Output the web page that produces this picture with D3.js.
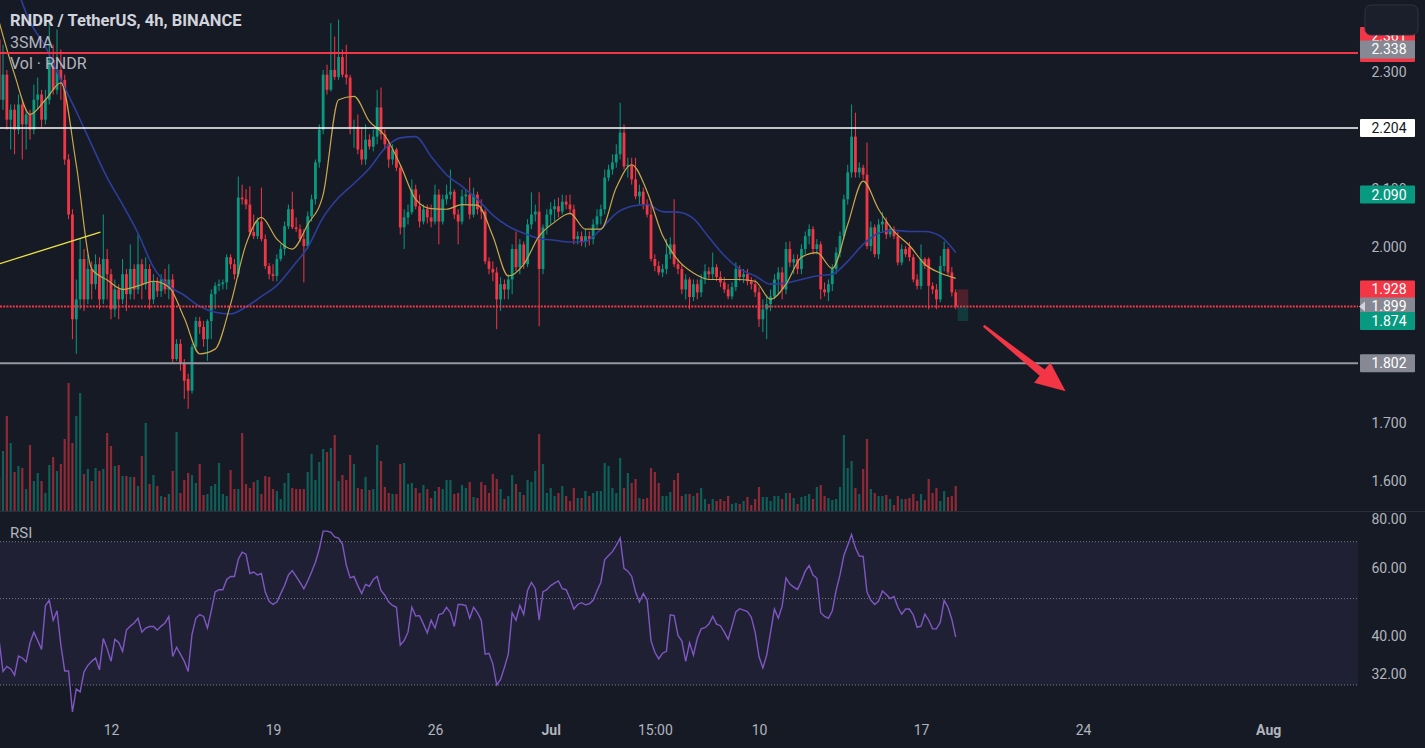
<!DOCTYPE html>
<html><head><meta charset="utf-8">
<script src="https://cdn.jsdelivr.net/npm/d3@7"></script>
<style>
html,body{margin:0;padding:0;background:#161a25;overflow:hidden;}
svg{display:block;font-family:Roboto,"Noto Sans",sans-serif;}
</style></head><body>
<svg id="chart" width="1425" height="748"></svg>
<script>
// ---------- DATA ----------
const barStartUTC = Date.UTC(2023, 5, 7, 7);   // first 4h bar (chart time)
const barHours = 4;

const opens = [
2.355,2.252,2.295,2.218,2.235,2.201,2.244,2.210,2.227,2.201,
2.252,2.261,2.218,2.252,2.320,2.269,2.303,2.286,2.150,2.056,
1.877,1.911,1.980,1.911,1.963,1.937,1.971,1.911,1.980,1.954,
1.894,1.928,1.911,1.954,1.920,1.963,1.928,1.971,1.937,1.963,
1.911,1.942,1.925,1.945,1.928,1.945,1.809,1.835,1.801,1.775,
1.755,1.830,1.874,1.864,1.843,1.874,1.920,1.934,1.937,1.940,
1.983,1.971,1.954,2.085,2.082,2.073,2.026,2.019,2.044,2.014,
1.968,1.954,1.951,1.980,1.997,2.036,2.065,2.034,2.031,2.014,
2.002,2.053,2.082,2.145,2.201,2.295,2.269,2.303,2.291,2.325,
2.295,2.290,2.205,2.206,2.167,2.150,2.184,2.172,2.189,2.239,
2.193,2.176,2.150,2.167,2.136,2.034,2.051,2.060,2.099,2.070,
2.044,2.065,2.051,2.044,2.090,2.044,2.082,2.090,2.095,2.056,
2.044,2.087,2.090,2.056,2.090,2.065,2.061,1.976,1.963,1.957,
1.911,1.937,1.928,1.945,1.997,1.966,2.005,1.971,2.039,2.056,
2.061,1.963,2.034,2.056,2.065,2.070,2.061,2.078,2.073,2.065,
2.014,2.019,2.009,2.019,2.014,2.039,2.053,2.065,2.119,2.133,
2.145,2.159,2.196,2.138,2.141,2.116,2.087,2.095,2.073,2.056,
1.980,1.968,1.957,1.963,1.988,2.005,1.971,1.963,1.928,1.945,
1.915,1.937,1.923,1.945,1.959,1.954,1.966,1.949,1.940,1.928,
1.916,1.932,1.963,1.949,1.954,1.942,1.937,1.923,1.877,1.894,
1.903,1.916,1.945,1.957,1.928,1.997,1.974,1.980,1.963,1.997,
2.019,2.031,1.997,2.005,1.928,1.923,1.937,1.963,1.991,2.019,
2.082,2.128,2.189,2.128,2.136,2.124,2.002,2.034,1.988,2.039,
2.044,2.022,2.031,2.019,1.974,1.997,2.000,1.983,1.945,1.934,
1.980,1.980,1.934,1.928,1.911,1.968,1.997,1.957,1.923];

const highs = [
2.406,2.346,2.303,2.244,2.244,2.261,2.252,2.235,2.235,2.278,
2.290,2.269,2.269,2.389,2.346,2.372,2.338,2.295,2.159,2.065,
1.945,2.014,1.997,1.988,1.976,1.988,1.983,2.056,1.997,1.963,
1.945,1.937,1.980,1.963,2.005,1.971,2.022,1.980,1.983,1.971,
1.954,1.949,1.954,1.963,1.971,1.954,1.843,1.843,1.809,1.784,
1.835,1.881,1.881,1.874,1.877,1.928,1.940,1.945,1.945,1.988,
1.988,1.980,2.121,2.107,2.099,2.104,2.056,2.051,2.102,2.022,
1.973,1.971,1.988,2.005,2.044,2.073,2.095,2.051,2.039,2.031,
2.061,2.090,2.150,2.210,2.303,2.312,2.383,2.360,2.389,2.338,
2.346,2.295,2.218,2.227,2.205,2.210,2.193,2.201,2.269,2.273,
2.201,2.184,2.176,2.170,2.141,2.065,2.073,2.116,2.107,2.090,
2.073,2.073,2.073,2.107,2.099,2.090,2.107,2.133,2.099,2.065,
2.099,2.099,2.119,2.102,2.095,2.082,2.065,1.983,1.976,1.966,
1.949,1.945,1.954,2.005,2.027,2.014,2.010,2.048,2.094,2.073,
2.094,2.039,2.065,2.077,2.082,2.085,2.090,2.089,2.090,2.073,
2.027,2.027,2.031,2.027,2.048,2.065,2.073,2.133,2.141,2.159,
2.176,2.247,2.210,2.153,2.153,2.153,2.107,2.102,2.082,2.078,
1.988,1.976,1.971,2.014,2.017,2.082,1.980,1.971,1.954,1.949,
1.945,1.945,1.954,1.971,1.966,1.991,1.971,1.959,1.949,1.937,
1.940,1.974,1.969,1.963,1.963,1.949,1.945,1.932,1.911,1.918,
1.928,1.954,1.966,1.966,2.009,2.010,1.988,1.988,2.005,2.027,
2.039,2.036,2.014,2.010,1.940,1.945,1.971,2.000,2.027,2.090,
2.141,2.244,2.230,2.145,2.141,2.179,2.044,2.039,2.048,2.060,
2.051,2.037,2.036,2.027,2.005,2.002,2.009,1.988,1.954,2.005,
1.983,1.983,1.940,1.937,1.985,2.010,2.000,1.966,1.928];

const lows = [
2.244,2.235,2.201,2.167,2.159,2.193,2.150,2.167,2.184,2.193,
2.235,2.205,2.210,2.244,2.261,2.261,2.252,2.141,2.048,1.843,
1.818,1.894,1.891,1.903,1.911,1.928,1.894,1.903,1.911,1.877,
1.881,1.877,1.903,1.891,1.911,1.911,1.920,1.911,1.928,1.894,
1.903,1.915,1.915,1.920,1.911,1.801,1.806,1.789,1.741,1.724,
1.750,1.823,1.852,1.830,1.806,1.843,1.894,1.925,1.928,1.928,
1.963,1.945,1.949,2.073,2.065,2.020,2.014,2.014,2.010,1.963,
1.945,1.942,1.942,1.976,1.986,2.031,2.031,2.026,2.009,1.940,
1.997,2.044,2.073,2.136,2.193,2.261,2.266,2.286,2.286,2.290,
2.278,2.193,2.170,2.159,2.141,2.141,2.167,2.164,2.176,2.184,
2.167,2.136,2.141,2.130,2.022,1.997,2.039,2.056,2.065,2.034,
2.039,2.041,2.034,2.039,2.005,2.039,2.073,2.082,2.048,2.005,
2.039,2.073,2.048,2.051,2.056,2.048,1.971,1.954,1.942,1.860,
1.891,1.911,1.911,1.920,1.959,1.954,1.963,1.966,2.031,2.044,
1.865,1.954,2.022,2.039,2.044,2.051,2.056,2.065,2.056,2.005,
2.005,2.002,2.000,2.003,2.005,2.031,2.039,2.056,2.113,2.124,
2.136,2.150,2.133,2.119,2.107,2.082,2.073,2.065,2.051,1.976,
1.959,1.952,1.949,1.954,1.980,1.966,1.954,1.920,1.911,1.894,
1.908,1.911,1.915,1.937,1.945,1.945,1.942,1.932,1.922,1.911,
1.911,1.925,1.942,1.939,1.935,1.928,1.915,1.864,1.855,1.843,
1.891,1.911,1.920,1.911,1.920,1.966,1.954,1.954,1.954,1.988,
2.005,1.988,1.988,1.911,1.916,1.908,1.925,1.954,1.983,2.014,
2.073,2.119,2.119,2.119,2.116,1.997,1.993,1.983,1.980,2.027,
2.014,2.017,2.014,1.969,1.969,1.983,1.976,1.940,1.928,1.928,
1.963,1.894,1.920,1.894,1.906,1.959,1.951,1.916,1.894];

const closes = [
2.252,2.295,2.218,2.235,2.201,2.244,2.210,2.227,2.201,2.252,
2.261,2.218,2.252,2.320,2.269,2.303,2.286,2.150,2.056,1.877,
1.911,1.980,1.911,1.963,1.937,1.971,1.911,1.980,1.954,1.894,
1.928,1.911,1.954,1.920,1.963,1.928,1.971,1.937,1.963,1.911,
1.942,1.925,1.945,1.928,1.945,1.809,1.835,1.801,1.772,1.755,
1.830,1.874,1.864,1.843,1.874,1.920,1.934,1.937,1.940,1.983,
1.971,1.954,2.085,2.082,2.073,2.026,2.019,2.044,2.014,1.968,
1.954,1.951,1.980,1.997,2.036,2.065,2.034,2.031,2.014,2.002,
2.053,2.082,2.145,2.201,2.295,2.269,2.303,2.291,2.325,2.295,
2.290,2.205,2.206,2.167,2.150,2.184,2.172,2.189,2.239,2.193,
2.176,2.150,2.167,2.136,2.034,2.051,2.060,2.099,2.070,2.044,
2.065,2.051,2.044,2.090,2.044,2.082,2.090,2.095,2.056,2.044,
2.087,2.090,2.056,2.090,2.065,2.061,1.976,1.963,1.957,1.911,
1.937,1.928,1.945,1.997,1.966,2.005,1.971,2.039,2.056,2.061,
1.963,2.034,2.056,2.065,2.070,2.061,2.078,2.073,2.065,2.014,
2.019,2.009,2.019,2.014,2.039,2.053,2.065,2.119,2.133,2.145,
2.159,2.196,2.138,2.141,2.116,2.087,2.095,2.073,2.056,1.980,
1.968,1.957,1.963,1.988,2.005,1.971,1.963,1.928,1.945,1.915,
1.937,1.923,1.945,1.959,1.954,1.966,1.949,1.940,1.928,1.916,
1.932,1.963,1.949,1.954,1.942,1.937,1.923,1.877,1.894,1.903,
1.916,1.945,1.957,1.928,1.997,1.974,1.980,1.963,1.997,2.019,
2.031,1.997,2.005,1.928,1.923,1.937,1.963,1.991,2.019,2.082,
2.128,2.189,2.128,2.136,2.124,2.002,2.034,1.988,2.039,2.044,
2.022,2.031,2.019,1.974,1.997,1.988,1.983,1.945,1.934,1.980,
1.968,1.934,1.928,1.911,1.968,1.997,1.957,1.923,1.899];

// volume, thousands of RNDR (relative)
const volumes = [
33,60,95,68,39,45,43,22,66,30, 38,30,18,46,54,40,47,72,128,68,
95,118,37,42,30,43,40,42,78,65, 45,46,35,35,34,34,25,55,88,27,
36,25,15,14,17,40,79,18,31,38, 36,28,47,16,17,25,27,48,17,15,
41,22,22,78,27,23,29,31,17,35, 34,22,20,12,28,38,23,22,22,22,
39,57,31,49,62,59,63,76,30,36, 31,56,47,23,22,34,21,22,66,50,
24,18,17,17,47,48,27,28,23,18, 26,22,13,20,24,22,31,31,17,18,
26,23,29,14,13,29,26,18,37,32, 22,12,15,36,27,19,16,31,29,40,
77,47,18,23,15,18,25,15,10,23, 13,13,20,15,18,20,20,48,45,23,
18,53,23,38,28,32,13,12,13,43, 39,28,15,15,19,31,38,15,17,17,
15,18,23,12,7,12,10,12,10,15, 7,8,7,10,14,6,12,24,14,14,
10,15,15,12,18,18,13,7,14,15, 17,12,24,26,15,13,11,12,24,76,
43,50,23,17,42,72,22,18,15,15, 16,12,6,15,12,12,13,17,10,17,
11,32,18,23,10,20,14,15,25];

const rsiValues = [
39,32.5,33.5,33,31.8,35.6,35.2,34.4,38.5,41,
39,37,48,49.5,44,46.5,38,32.6,32.6,25.6,
29.3,28.8,32.4,33.7,34.5,35.2,32.8,39.5,37.2,34.5,
39.3,38.6,36.6,41.5,42.5,43.3,44.5,41,42,42.4,
42.4,41.5,42.5,43.3,45,35.5,37.5,36,34.5,32.5,
40.5,44.5,45.5,45,42,46.5,52,52.7,52.7,56,
57,57,63,65.8,65,58,58.5,57.5,58,52,
49.2,48.3,49,51.5,54,57.5,59,57,55,53,
55.5,58.5,62,67,74.5,74.5,74,72,71.5,69,
61,56.5,57,54,51.5,54.4,53.8,56,57,52.5,
51,49,48,47.5,38,39,41,47.5,45.1,45.2,
43,40.8,44,42,45.5,45.8,47.5,46,42.4,48.3,
48.3,48,44.5,47.5,46,44,36,36.2,34,30,
31,33.3,36,46,44,48,45.5,52.5,55,53,
44,52.1,52.7,54,54.8,55.5,53,52.7,50,47,
48.3,48.8,48.2,48.5,49.5,52.4,55,63,64.5,66,
68.5,71.5,59.8,58.8,57,52,49,51.5,49.6,39,
36.4,35,36.2,36.6,45.4,45.2,40.2,38.9,34.5,38.5,
35.8,39.5,41.8,42.1,43,45,43,42.6,41,39.3,
42.5,46.2,47.1,46.7,46.3,44.8,41,35.5,33.2,35.8,
41,47,44.5,47.8,56.5,54.5,53.5,52.8,55.5,58.8,
60.8,57.5,56.4,46,45,44.5,46.5,52.5,57.5,64.5,
68.5,73,67.5,64.3,64.2,52,49.5,48.3,49.3,52.3,
51.2,50,50.6,47.5,45.6,47,47,45.4,42.2,42.5,
45.6,44,41.8,41.8,43.5,49.5,47.5,44.2,39.8];

// moving averages read every 4th bar
const maStepBars = 4;
const smaFast = [
2.385,2.295,2.227,2.252,2.281,2.141,1.963,1.944,1.928,1.934,
1.942,1.932,1.879,1.818,1.826,1.903,2.005,2.051,2.014,1.997,
2.039,2.090,2.252,2.258,2.215,2.191,2.141,2.082,2.066,2.065,
2.073,2.072,2.019,1.951,1.971,2.019,2.043,2.058,2.031,2.031,
2.102,2.141,2.095,2.020,1.978,1.956,1.945,1.945,1.945,1.942,
1.911,1.937,1.983,1.991,1.964,2.039,2.113,2.065,2.027,2.003,
1.971,1.956,1.947];
const smaSlow = [
2.508,2.452,2.385,2.343,2.286,2.232,2.175,2.119,2.073,2.024,
1.966,1.934,1.918,1.899,1.889,1.886,1.898,1.916,1.935,1.966,
2.000,2.051,2.085,2.109,2.135,2.169,2.187,2.189,2.155,2.124,
2.104,2.082,2.055,2.036,2.024,2.015,2.012,2.009,2.010,2.031,
2.058,2.070,2.073,2.061,2.060,2.049,2.017,1.986,1.963,1.951,
1.937,1.939,1.945,1.951,1.954,1.976,2.005,2.024,2.029,2.027,
2.027,2.019,1.991];

const xTickDates = [Date.UTC(2023,5,12,3),Date.UTC(2023,5,19,3),Date.UTC(2023,5,26,3),Date.UTC(2023,6,1,3),
  Date.UTC(2023,6,5,15),Date.UTC(2023,6,10,3),Date.UTC(2023,6,17,3),Date.UTC(2023,6,24,3),Date.UTC(2023,7,1,3)];
const xTickLabels = ["12","19","26","Jul","15:00","10","17","24","Aug"];
const xTickBold = [false,false,false,true,false,false,false,false,true];

const priceTicks = [1.6,1.7,1.8,1.9,2.0,2.1,2.2,2.3];
const rsiTicks = [80,60,40,32];
const rsiLevels = [70,50,30];

const levelPrices = [2.332, 2.204, 1.899, 1.802];
const levelColors = ["#f23645","#ffffff","#f23645","#9598a1"];
const levelWidths = [2, 1.5, 2, 2];
const levelDashed = [false,false,true,false];

const trendTimes = [Date.UTC(2023,5,7,0), Date.UTC(2023,5,11,16)];
const trendPrices = [1.968, 2.026];

const arrowTimes = [Date.UTC(2023,6,19,20), Date.UTC(2023,6,23,9)];
const arrowPrices = [1.866, 1.754];

const positionTimes = [Date.UTC(2023,6,18,17), Date.UTC(2023,6,19,4)];
const positionPrices = {stop:1.928, entry:1.899, target:1.874};

// price-scale tags (value shown, box colour, text colour, whether its text is visible)
const tagValues = [2.332, 2.361, 2.338, 2.204, 2.090, 1.928, 1.899, 1.874, 1.802];
const tagFills  = ["#f23645","#f23645","#868993","#ffffff","#089981","#f23645","#868993","#089981","#868993"];
const tagText   = ["#ffffff","#ffffff","#ffffff","#131722","#ffffff","#ffffff","#ffffff","#ffffff","#ffffff"];
const tagShowText = [false,true,true,true,true,true,true,true,true];

// ---------- SCALES ----------
const W = 1425, H = 748, plotR = 1358, mainBottom = 511, rsiTop = 512, rsiBottom = 716;
const UP = "#089981", DOWN = "#f23645";
const svg = d3.select("#chart");
svg.append("rect").attr("width",W).attr("height",H).attr("fill","#161a25");

const x = d3.scaleUtc().domain([Date.UTC(2023,5,12,3), Date.UTC(2023,6,17,3)]).range([111, 921]);
const y = d3.scaleLinear().domain([1.6, 2.3]).range([481.4, 71.7]);
const vY = d3.scaleLinear().domain([0, 130]).range([mainBottom, mainBottom - 130]);
const rY = d3.scaleLog().domain([30, 70]).range([685, 541.7]);

const barMs = barHours * 3600e3;
const bars = opens.map((o,i)=>({t:new Date(barStartUTC + i*barMs), o, h:highs[i], l:lows[i], c:closes[i], v:volumes[i], r:rsiValues[i]}));

const defs = svg.append("defs");
defs.append("clipPath").attr("id","clipMain").append("rect").attr("x",0).attr("y",0).attr("width",plotR).attr("height",mainBottom);
defs.append("clipPath").attr("id","clipRsi").append("rect").attr("x",0).attr("y",rsiTop).attr("width",plotR).attr("height",rsiBottom-rsiTop);

const main = svg.append("g").attr("clip-path","url(#clipMain)");

// volume
main.append("g").selectAll("rect").data(bars).join("rect")
  .attr("x", d=>x(d.t)-1.1).attr("width",2.2)
  .attr("y", d=>vY(d.v)).attr("height", d=>mainBottom - vY(d.v))
  .attr("fill", d=> d.c>=d.o ? UP : DOWN).attr("opacity",0.55);

// candles
const cg = main.append("g");
cg.selectAll("line").data(bars).join("line")
  .attr("x1",d=>x(d.t)).attr("x2",d=>x(d.t))
  .attr("y1",d=>y(d.h)).attr("y2",d=>y(d.l))
  .attr("stroke",d=>d.c>=d.o?UP:DOWN).attr("stroke-width",1);
cg.selectAll("rect").data(bars).join("rect")
  .attr("x",d=>x(d.t)-1.4).attr("width",2.8)
  .attr("y",d=>y(Math.max(d.o,d.c)))
  .attr("height",d=>Math.max(1, Math.abs(y(d.o)-y(d.c))))
  .attr("fill",d=>d.c>=d.o?UP:DOWN);

// moving averages
const maPts = arr => arr.map((v,k)=>({t:new Date(barStartUTC + k*maStepBars*barMs), v}));
const maLine = d3.line().x(d=>x(d.t)).y(d=>y(d.v)).curve(d3.curveMonotoneX);
main.append("path").datum(maPts(smaSlow)).attr("d",maLine).attr("fill","none").attr("stroke","#2c3e9c").attr("stroke-width",1.6);
main.append("path").datum(maPts(smaFast)).attr("d",maLine).attr("fill","none").attr("stroke","#c9a94c").attr("stroke-width",1.2);

// horizontal levels
levelPrices.forEach((p,i)=>{
  main.append("line").attr("x1",0).attr("x2",plotR).attr("y1",y(p)).attr("y2",y(p))
    .attr("stroke",levelColors[i]).attr("stroke-width",levelWidths[i])
    .attr("stroke-dasharray", levelDashed[i] ? "2,1.2" : null);
});

// trend line
main.append("line").attr("x1",x(new Date(trendTimes[0]))).attr("y1",y(trendPrices[0]))
  .attr("x2",x(new Date(trendTimes[1]))).attr("y2",y(trendPrices[1]))
  .attr("stroke","#f0e442").attr("stroke-width",1.3);

// position tool
const px0 = x(new Date(positionTimes[0])), px1 = x(new Date(positionTimes[1]));
main.append("rect").attr("x",px0).attr("width",px1-px0).attr("y",y(positionPrices.stop))
  .attr("height",y(positionPrices.entry)-y(positionPrices.stop)).attr("fill","rgba(242,54,69,0.25)");
main.append("rect").attr("x",px0).attr("width",px1-px0).attr("y",y(positionPrices.entry))
  .attr("height",y(positionPrices.target)-y(positionPrices.entry)).attr("fill","rgba(8,153,129,0.25)");

// arrow
(function(){
  const ax = x(new Date(arrowTimes[0])), ay = y(arrowPrices[0]);
  const bx = x(new Date(arrowTimes[1])), by = y(arrowPrices[1]);
  const L = Math.hypot(bx-ax, by-ay), ux=(bx-ax)/L, uy=(by-ay)/L, nx=-uy, ny=ux;
  const headL = 30, headW = 13, cx = bx-ux*headL, cy = by-uy*headL;
  const w0 = 1.2, w1 = 4;
  const pts = [[ax+nx*w0, ay+ny*w0],[cx+nx*w1, cy+ny*w1],[cx+nx*headW, cy+ny*headW],[bx,by],
               [cx-nx*headW, cy-ny*headW],[cx-nx*w1, cy-ny*w1],[ax-nx*w0, ay-ny*w0]];
  svg.append("polygon").attr("points", pts.map(p=>p.join(",")).join(" ")).attr("fill","#f23645");
})();

// separator
svg.append("line").attr("x1",0).attr("x2",W).attr("y1",mainBottom+0.5).attr("y2",mainBottom+0.5).attr("stroke","#2a2e39");

// RSI pane
const rg = svg.append("g").attr("clip-path","url(#clipRsi)");
rg.append("rect").attr("x",0).attr("width",plotR).attr("y",rY(70)).attr("height",rY(30)-rY(70)).attr("fill","rgba(126,87,194,0.1)");
rsiLevels.forEach(l=>{
  rg.append("line").attr("x1",0).attr("x2",plotR).attr("y1",rY(l)).attr("y2",rY(l))
    .attr("stroke","#787b86").attr("stroke-width",1).attr("stroke-dasharray","1,2");
});
rg.append("path").datum(bars).attr("d", d3.line().x(d=>x(d.t)).y(d=>rY(d.r)))
  .attr("fill","none").attr("stroke","#7e57c2").attr("stroke-width",1.4);

// legends
svg.append("text").attr("x",10).attr("y",26).text("RNDR / TetherUS, 4h, BINANCE")
  .attr("fill","#d1d4dc").attr("font-size",16.5).attr("font-weight",700);
svg.append("text").attr("x",10).attr("y",48).text("3SMA").attr("fill","#b2b5be").attr("font-size",16);
svg.append("text").attr("x",10).attr("y",69).text("Vol · RNDR").attr("fill","#b2b5be").attr("font-size",16);
svg.append("text").attr("x",10).attr("y",538).text("RSI").attr("fill","#b2b5be").attr("font-size",15);

// price axis
const yAx = svg.append("g").attr("transform","translate(1389,0)")
  .call(d3.axisRight(y).tickValues(priceTicks).tickFormat(d3.format(".3f")).tickSize(0).tickPadding(0));
yAx.select(".domain").remove();
yAx.selectAll("text").attr("text-anchor","middle").attr("fill","#b2b5be").attr("font-size",14).attr("font-family","Roboto, sans-serif");

const rAx = svg.append("g").attr("transform","translate(1389,0)")
  .call(d3.axisRight(rY).tickValues(rsiTicks).tickFormat(d3.format(".2f")).tickSize(0).tickPadding(0));
rAx.select(".domain").remove();
rAx.selectAll("text").attr("text-anchor","middle").attr("fill","#b2b5be").attr("font-size",14).attr("font-family","Roboto, sans-serif");

// time axis
const xAx = svg.append("g").attr("transform","translate(0,725)")
  .call(d3.axisBottom(x).tickValues(xTickDates.map(d=>new Date(d))).tickFormat((d,i)=>xTickLabels[i]).tickSize(0).tickPadding(0));
xAx.select(".domain").remove();
xAx.selectAll("text").attr("fill","#b2b5be").attr("font-size",14).attr("font-family","Roboto, sans-serif")
  .attr("font-weight",(d,i)=>xTickBold[i]?700:400);

// price tags
const tg = svg.append("g");
tagValues.forEach((v,i)=>{
  const cy = y(v);
  tg.append("rect").attr("x",1360).attr("y",cy-9).attr("width",55).attr("height",18).attr("fill",tagFills[i]).attr("rx",1);
  if (tagShowText[i]) {
    tg.append("text").attr("x",1389).attr("y",cy).attr("dy","0.36em").attr("text-anchor","middle")
      .attr("fill",tagText[i]).attr("font-size",14).text(d3.format(".3f")(v));
  }
});
// small marker on last price
svg.append("polygon").attr("points",[[1359,y(1.899)],[1365,y(1.899)-5],[1365,y(1.899)+5]].map(p=>p.join(",")).join(" ")).attr("fill","#d1d4dc");

// top-right button box
svg.append("rect").attr("x",1365).attr("y",5).attr("width",53).attr("height",30).attr("rx",6)
  .attr("fill","#1b1f2b").attr("stroke","#2f3341");
</script>
</body></html>
